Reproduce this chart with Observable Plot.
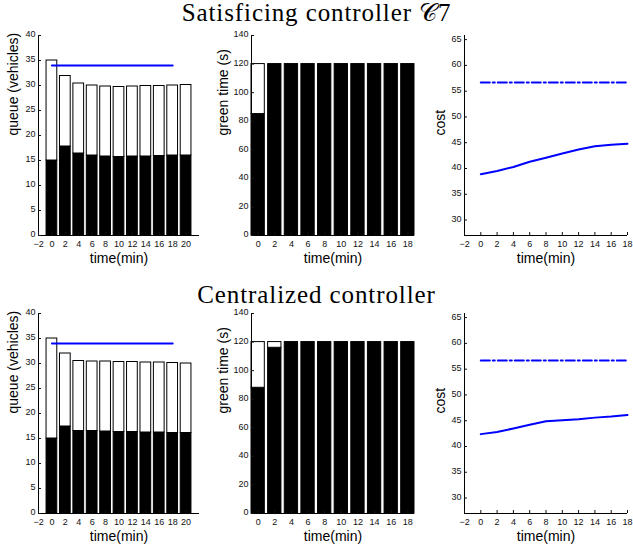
<!DOCTYPE html>
<html><head><meta charset="utf-8">
<script src="https://cdn.jsdelivr.net/npm/d3@7"></script>
<script src="https://cdn.jsdelivr.net/npm/@observablehq/plot@0.6"></script>
<style>
html,body{margin:0;padding:0;background:#fff;}
#wrap{position:relative;width:633px;height:547px;overflow:hidden;background:#fff;}
.title{position:absolute;left:0;width:633px;text-align:center;font-family:"Liberation Serif","DejaVu Serif",serif;font-size:25px;letter-spacing:0.9px;line-height:1;color:#000;white-space:nowrap;}
</style></head><body><div id="wrap"></div>
<script>
// ---------- data ----------
const titles = ["Satisficing controller 𝒞7", "Centralized controller"];
const queueTimes = [0, 2, 4, 6, 8, 10, 12, 14, 16, 18, 20];
const satQueueLow  = [15, 17.8, 16.4, 16.0, 15.8, 15.7, 15.8, 15.8, 15.9, 16.0, 16.0];
const satQueueHigh = [20, 14.1, 14.0, 14.0, 14.0, 14.0, 14.0, 14.1, 14.0, 14.0, 14.1];
const cenQueueLow  = [15, 17.4, 16.5, 16.5, 16.4, 16.3, 16.3, 16.2, 16.2, 16.1, 16.1];
const cenQueueHigh = [20, 14.6, 14.0, 13.9, 14.0, 14.0, 14.0, 14.0, 14.0, 14.0, 13.9];
const queueLimit = 34;
const limitTimes = [0, 18];

const greenTimes = [0, 2, 4, 6, 8, 10, 12, 14, 16, 18];
const satGreenLow  = [85, 120, 120, 120, 120, 120, 120, 120, 120, 120];
const satGreenHigh = [35, 0, 0, 0, 0, 0, 0, 0, 0, 0];
const cenGreenLow  = [88, 116, 120, 120, 120, 120, 120, 120, 120, 120];
const cenGreenHigh = [32, 4, 0, 0, 0, 0, 0, 0, 0, 0];

const costTimes = [0, 2, 4, 6, 8, 10, 12, 14, 16, 18];
const satCost = [38.9, 39.5, 40.3, 41.3, 42.1, 42.9, 43.7, 44.3, 44.6, 44.8];
const cenCost = [42.4, 42.8, 43.5, 44.2, 44.9, 45.1, 45.3, 45.6, 45.8, 46.1];
const satCostBound = 56.7;
const cenCostBound = 56.7;

const queueTicksX = [-2, 0, 2, 4, 6, 8, 10, 12, 14, 16, 18, 20];
const queueTicksY = [0, 5, 10, 15, 20, 25, 30, 35, 40];
const greenTicksX = [0, 2, 4, 6, 8, 10, 12, 14, 16, 18];
const greenTicksY = [0, 20, 40, 60, 80, 100, 120, 140];
const costTicksX = [-2, 0, 2, 4, 6, 8, 10, 12, 14, 16, 18];
const costTicksY = [30, 35, 40, 45, 50, 55, 60, 65];

// ---------- helpers ----------
const wrap = document.getElementById("wrap");
const HALF = 0.8;

function stackedRows(times, low, high) {
  const rows = [];
  times.forEach((t, i) => {
    rows.push({t, v: low[i], s: "low"});
    rows.push({t, v: high[i], s: "high"});
  });
  return rows;
}

function panel({left, top, fw, fh, xDomain, yDomain, xTicks, yTicks, ylabel, ylabelDx, marks}) {
  const mL = 50, mR = 12, mT = 12, mB = 42;
  const svg = Plot.plot({
    width: fw + mL + mR, height: fh + mT + mB,
    marginLeft: mL, marginRight: mR, marginTop: mT, marginBottom: mB,
    x: {domain: xDomain},
    y: {domain: yDomain},
    style: {fontFamily: "'Liberation Sans', Arial, sans-serif", fontSize: "9px", color: "#111", background: "transparent", overflow: "visible"},
    marks: [
      ...marks,
      Plot.ruleX([xDomain[0]], {stroke: "#000", strokeWidth: 1}),
      Plot.ruleY([yDomain[0]], {stroke: "#000", strokeWidth: 1}),
      Plot.axisX({ticks: xTicks, tickSize: -3, tickPadding: 8, label: null}),
      Plot.axisY({ticks: yTicks, tickSize: -3, text: null, label: null}),
      Plot.axisY({ticks: yTicks, tickSize: 0, tickPadding: 3, dy: -1, label: null}),
      Plot.text(["time(min)"], {frameAnchor: "bottom", dy: 23, fontSize: 14, fill: "#000", lineAnchor: "middle"}),
      Plot.text([ylabel], {frameAnchor: "left", dx: ylabelDx, rotate: -90, fontSize: 14, fill: "#000", lineAnchor: "middle"})
    ]
  });
  svg.style.position = "absolute";
  svg.style.left = (left - mL) + "px";
  svg.style.top = (top - mT) + "px";
  wrap.appendChild(svg);
}

function barMarks(rows) {
  return [Plot.rectY(rows, {
    x1: d => d.t - HALF, x2: d => d.t + HALF, y: "v",
    fill: d => d.s === "low" ? "#000" : "#fff",
    stroke: "#000", strokeWidth: 1
  })];
}

function limitLine(y) {
  return Plot.line(limitTimes.map(t => ({t, y})), {x: "t", y: "y", stroke: "#0000ff", strokeWidth: 2});
}

// ---------- titles ----------
[[titles[0], 0], [titles[1], 282]].forEach(([txt, top]) => {
  const d = document.createElement("div");
  d.className = "title"; d.style.top = top + "px"; d.textContent = txt;
  wrap.appendChild(d);
});

// ---------- panels ----------
const rows = [
  {top: 35, qLow: satQueueLow, qHigh: satQueueHigh, gLow: satGreenLow, gHigh: satGreenHigh, cost: satCost, bound: satCostBound},
  {top: 313, qLow: cenQueueLow, qHigh: cenQueueHigh, gLow: cenGreenLow, gHigh: cenGreenHigh, cost: cenCost, bound: cenCostBound}
];

rows.forEach(r => {
  panel({
    left: 38, top: r.top, fw: 161, fh: 200,
    xDomain: [-2, 22], yDomain: [0, 40], xTicks: queueTicksX, yTicks: queueTicksY,
    ylabel: "queue (vehicles)", ylabelDx: -25,
    marks: [...barMarks(stackedRows(queueTimes, r.qLow, r.qHigh)), limitLine(queueLimit)]
  });
  panel({
    left: 251, top: r.top, fw: 163, fh: 200,
    xDomain: [-0.8, 18.8], yDomain: [0, 140], xTicks: greenTicksX, yTicks: greenTicksY,
    ylabel: "green time (s)", ylabelDx: -28,
    marks: barMarks(stackedRows(greenTimes, r.gLow, r.gHigh))
  });
  panel({
    left: 464, top: r.top, fw: 163, fh: 200,
    xDomain: [-2, 18], yDomain: [27, 65.8], xTicks: costTicksX, yTicks: costTicksY,
    ylabel: "cost", ylabelDx: -24,
    marks: [
      Plot.line(costTimes.map((t, i) => ({t, c: r.cost[i]})), {x: "t", y: "c", stroke: "#0000ff", strokeWidth: 2}),
      Plot.line(limitTimes.map(t => ({t, c: r.bound})), {x: "t", y: "c", stroke: "#0000ff", strokeWidth: 2, strokeDasharray: "9,3,2,3"})
    ]
  });
});
</script>
</body></html>
